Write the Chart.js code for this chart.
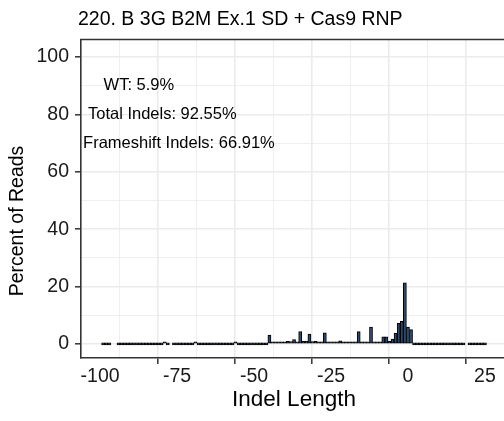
<!DOCTYPE html>
<html>
<head>
<meta charset="utf-8">
<script src="https://cdn.jsdelivr.net/npm/chart.js@4/dist/chart.umd.min.js"></script>
<style>
  html, body { margin: 0; padding: 0; background: #ffffff; }
  #c { display: block; }
</style>
</head>
<body>
<canvas id="c" width="504" height="421"></canvas>
<script>
// ---- data ----
const chartTitle = '220. B 3G B2M Ex.1 SD + Cas9 RNP';
const xAxisTitle = 'Indel Length';
const yAxisTitle = 'Percent of Reads';

const indelLength = [
  -99, -98, -97,
  -94, -93, -92, -91, -90, -89, -88, -87, -86, -85, -84, -83, -82, -81, -80, -79, -78,
  -76, -75, -74, -73, -72, -71, -70, -69, -68, -67, -66, -65, -64, -63, -62, -61, -60,
  -59, -58, -57, -56, -55, -54, -53, -52, -51, -50, -49, -48, -47, -46,
  -45, -44, -43, -42, -41, -40, -39, -38, -37, -36, -35, -34, -33, -32, -31, -30,
  -29, -28, -27, -26, -25, -24, -23, -22, -21, -20, -19, -18, -17, -16, -15, -14,
  -13, -12, -11, -10, -9, -8, -7, -6, -5, -4, -3, -2, -1, 0, 1,
  2, 3, 4, 5, 6, 7, 8, 9, 10, 11, 12, 13, 14, 15, 16, 17, 18,
  20, 21, 22, 23, 24, 25
];
const percentReads = [
  0, 0, 0,
  0, 0, 0, 0, 0, 0, 0, 0, 0, 0, 0, 0, 0, 0, 0, 0.4, 0,
  0, 0, 0, 0, 0, 0, 0, 0.3, 0, 0, 0, 0, 0, 0, 0, 0, 0,
  0, 0, 0, 0.5, 0, 0, 0, 0, 0, 0, 0, 0, 0, 0,
  3.1, 0.2, 0.3, 0.2, 0.2, 0.3, 0.9, 0.8, 1.5, 0.6, 4.3, 0.9, 1.0, 3.4, 0.8, 0.9,
  0.5, 0.6, 3.9, 0.4, 0.4, 0.5, 0.4, 1.1, 0.5, 0.4, 0.4, 0.4, 0.5, 4.3, 0.6, 0.5,
  0.6, 5.9, 0.7, 0.6, 0.7, 2.5, 2.5, 0.9, 1.7, 3.7, 7.2, 7.9, 21.3, 5.9, 5.0,
  0, 0, 0, 0, 0, 0, 0, 0, 0, 0, 0, 0, 0, 0, 0, 0, 0,
  0, 0, 0, 0, 0, 0
];

const xMajorTicks = [-100, -75, -50, -25, 0, 25];
const xMinorTicks = [-87.5, -62.5, -37.5, -12.5, 12.5];
const yMajorTicks = [0, 20, 40, 60, 80, 100];
const yMinorTicks = [10, 30, 50, 70, 90];

const annotationLabels = ['WT: 5.9%', 'Total Indels: 92.55%', 'Frameshift Indels: 66.91%'];
const annotationX = [-87.4, -79.8, -74.4];
const annotationY = [90, 80, 70];

// ---- styling ----
const FONT = '"Liberation Sans", Arial, Helvetica, sans-serif';
const GRID = '#EBEBEB';
const DARK = '#333333';

const isMajor = (list, v) => list.some(t => Math.abs(t - v) < 1e-6);
const tickVal = c => (c && c.tick) ? c.tick.value : null;

const panelPlugin = {
  id: 'panelText',
  afterDraw(chart) {
    const ctx = chart.ctx;
    const a = chart.chartArea;
    const xs = chart.scales.x, ys = chart.scales.y;
    ctx.save();
    ctx.strokeStyle = DARK;
    ctx.lineWidth = 1.6;
    ctx.beginPath();
    ctx.moveTo(a.left - 0.8, a.top);
    ctx.lineTo(a.right + 5, a.top);
    ctx.stroke();

    ctx.fillStyle = '#000';
    ctx.font = '19.5px ' + FONT;
    ctx.textAlign = 'left';
    ctx.textBaseline = 'middle';
    ctx.fillText(chartTitle, 78, 20);

    ctx.font = '22.5px ' + FONT;
    ctx.textAlign = 'center';
    ctx.fillText(xAxisTitle, (a.left + a.right + 3) / 2, 400);

    ctx.save();
    ctx.translate(18, 221);
    ctx.rotate(-Math.PI / 2);
    ctx.font = '19.5px ' + FONT;
    ctx.fillText(yAxisTitle, 0, 0);
    ctx.restore();

    ctx.font = '16.5px ' + FONT;
    ctx.textAlign = 'center';
    for (let i = 0; i < annotationLabels.length; i++) {
      ctx.fillText(annotationLabels[i], xs.getPixelForValue(annotationX[i]), ys.getPixelForValue(annotationY[i]));
    }
    ctx.restore();
  }
};

function gridFor(majors) {
  return {
    color: GRID,
    lineWidth: c => { const v = tickVal(c); return (v === null || isMajor(majors, v)) ? 1.6 : 0.8; },
    tickColor: c => { const v = tickVal(c); return (v === null || isMajor(majors, v)) ? DARK : 'rgba(0,0,0,0)'; },
    tickLength: 6,
    tickWidth: 1.5,
    drawTicks: true
  };
}

new Chart(document.getElementById('c'), {
  type: 'bar',
  data: {
    datasets: [{
      data: indelLength.map((x, i) => ({ x: x, y: percentReads[i] })),
      backgroundColor: '#2d4a6a',
      borderColor: '#000000',
      borderWidth: 1,
      borderSkipped: false,
      barPercentage: 1.0,
      categoryPercentage: 1.0,
      minBarLength: 2
    }]
  },
  options: {
    responsive: false,
    devicePixelRatio: 1,
    animation: false,
    events: [],
    layout: { padding: { top: 39.5, left: 0, right: 0, bottom: 0 } },
    plugins: {
      legend: { display: false },
      title: { display: false },
      tooltip: { enabled: false }
    },
    scales: {
      x: {
        type: 'linear',
        min: -106.2,
        max: 31.2,
        offset: false,
        afterBuildTicks(scale) {
          scale.ticks = xMajorTicks.concat(xMinorTicks).sort((p, q) => p - q).map(v => ({ value: v }));
        },
        afterFit(scale) { scale.height = 63; },
        grid: gridFor(xMajorTicks),
        border: { display: true, color: DARK, width: 1.6 },
        ticks: {
          autoSkip: false,
          maxRotation: 0,
          padding: 1,
          color: '#1a1a1a',
          font: { family: FONT, size: 19.5 },
          callback: v => isMajor(xMajorTicks, v) ? String(v) : ''
        }
      },
      y: {
        type: 'linear',
        min: -4.9,
        max: 106.1,
        afterBuildTicks(scale) {
          scale.ticks = yMajorTicks.concat(yMinorTicks).sort((p, q) => p - q).map(v => ({ value: v }));
        },
        afterFit(scale) { scale.width = 81; },
        grid: gridFor(yMajorTicks),
        border: { display: true, color: DARK, width: 1.6 },
        ticks: {
          autoSkip: false,
          padding: 6,
          color: '#1a1a1a',
          font: { family: FONT, size: 19.5 },
          callback: v => isMajor(yMajorTicks, v) ? String(v) : ''
        }
      }
    }
  },
  plugins: [panelPlugin]
});
</script>
</body>
</html>
